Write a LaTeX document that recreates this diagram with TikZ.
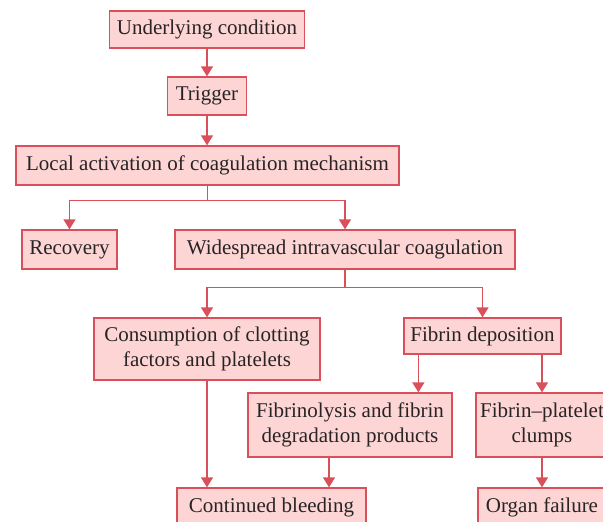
\documentclass[tikz,border=0pt]{standalone}
\usepackage{fontspec}
\setmainfont{Liberation Serif}
\usetikzlibrary{arrows.meta}
\definecolor{boxfill}{RGB}{253,213,213}
\definecolor{boxline}{RGB}{218,80,90}
\definecolor{txt}{RGB}{40,36,37}
\begin{document}
\begin{tikzpicture}[x=1pt,y=-1pt,
  box/.style={draw=boxline, fill=boxfill, line width=1.3pt, text=txt, inner sep=0pt,
    font=\fontsize{21}{25}\selectfont, align=center},
  arr/.style={draw=boxline, line width=1.5pt, -{Triangle[width=12pt,length=10pt]}},
  ln/.style={draw=boxline, line width=1.5pt}]
\useasboundingbox (0,0) rectangle (603,522);
\clip (0,0) rectangle (603,522);
\node[box, minimum width=195pt, minimum height=37pt] (uc) at (207,29.5) {Underlying condition};
\node[box, minimum width=79pt, minimum height=38pt] (tr) at (207,96) {Trigger};
\node[box, minimum width=383pt, minimum height=39pt] (la) at (207.5,165.5) {Local activation of coagulation mechanism};
\node[box, minimum width=95pt, minimum height=39pt] (rec) at (69.5,249.5) {Recovery};
\node[box, minimum width=340pt, minimum height=39pt] (wic) at (345,249.5) {Widespread intravascular coagulation};
\node[box, minimum width=226pt, minimum height=62pt] (con) at (207,349) {Consumption of clotting\\factors and platelets};
\node[box, minimum width=157pt, minimum height=36pt] (fd) at (482.5,336) {Fibrin deposition};
\node[box, minimum width=204pt, minimum height=64pt] (fib) at (350,425) {Fibrinolysis and fibrin\\degradation products};
\node[box, minimum width=132pt, minimum height=64pt] (fpc) at (542,425) {Fibrin--platelet\\clumps};
\node[box, minimum width=189pt, minimum height=38pt] (cb) at (271.5,507) {Continued bleeding};
\node[box, minimum width=128pt, minimum height=38pt] (of) at (542,507) {Organ failure};
\draw[arr] (uc.south) -- (tr.north);
\draw[arr] (tr.south) -- (tr.south |- la.north);
\draw[arr] (la.south) -- ++(0,15) -| (rec.north);
\draw[arr] (la.south) -- ++(0,15) -| (wic.north);
\draw[arr] (wic.south) -- ++(0,18) -| (con.north);
\draw[arr] (wic.south) -- ++(0,18) -| (fd.north);
\draw[arr] ([xshift=15pt]fd.south west) -- ([xshift=15pt]fd.south west |- fib.north);
\draw[arr] (fpc.north |- fd.south) -- (fpc.north);
\draw[arr] (con.south) -- (con.south |- cb.north);
\draw[arr] ([xshift=-21pt]fib.south) -- ([xshift=-21pt]fib.south |- cb.north);
\draw[arr] (fpc.south) -- (of.north);
\end{tikzpicture}
\end{document}
